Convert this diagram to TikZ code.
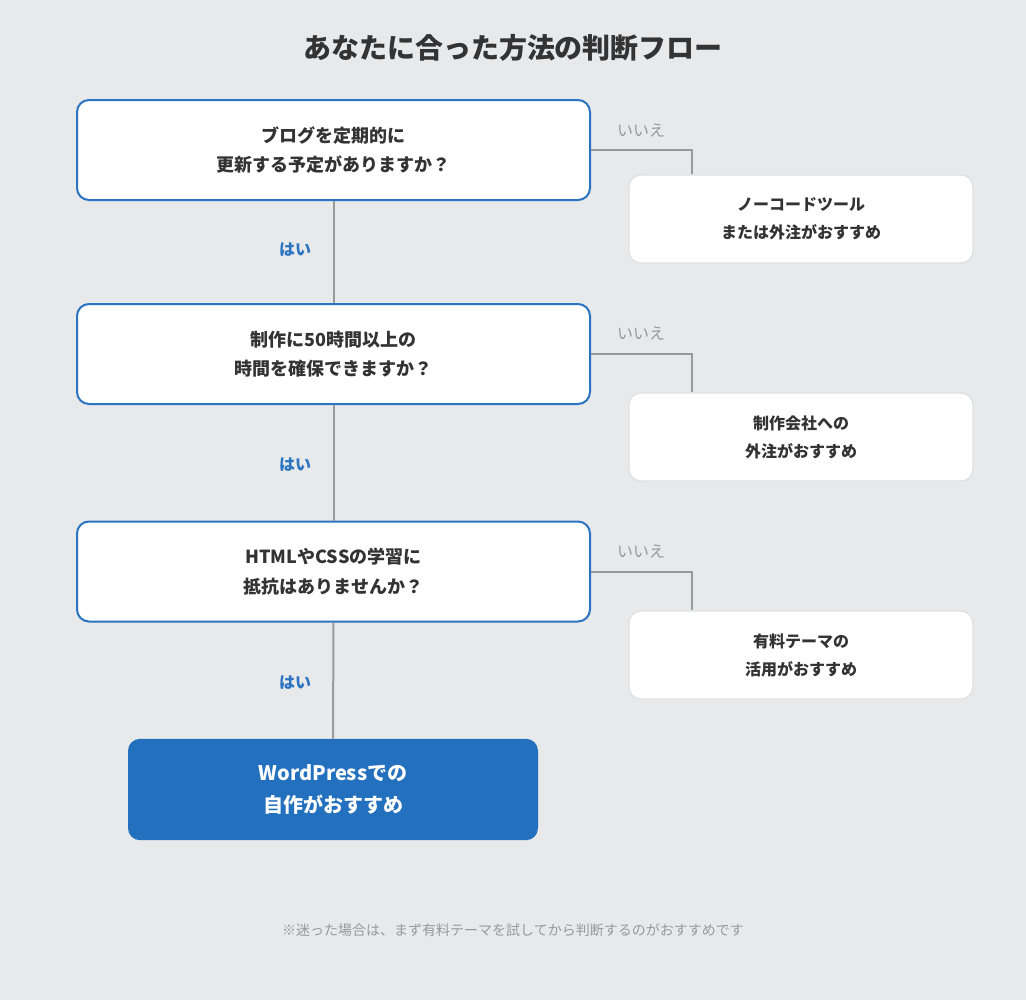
\documentclass[tikz,border=0pt]{standalone}
\usepackage{fontspec}
\setmainfont{Noto Sans CJK JP}
\definecolor{bggray}{HTML}{E8E9EB}
\definecolor{qblue}{HTML}{2B74C1}
\definecolor{fillblue}{HTML}{2370BF}
\definecolor{linegray}{HTML}{999999}
\definecolor{textdark}{HTML}{333333}
\tikzset{
  question/.style={draw=qblue,line width=1.5pt,fill=white,rounded corners=9pt,
    minimum width=384.75pt,minimum height=75pt,align=center,
    font=\fontsize{13.5}{22}\selectfont\bfseries,text=textdark},
  answer/.style={draw=black!12,line width=1pt,fill=white,rounded corners=9pt,
    minimum width=258pt,minimum height=66pt,align=center,
    font=\fontsize{12}{21}\selectfont\bfseries,text=textdark},
  result/.style={fill=fillblue,rounded corners=9pt,
    minimum width=307.5pt,minimum height=76pt,align=center,
    font=\fontsize{15}{24}\selectfont\bfseries,text=white},
  flow/.style={draw=linegray,line width=1.5pt},
  yes/.style={font=\fontsize{12}{14}\selectfont\bfseries,text=qblue},
  no/.style={font=\fontsize{12}{14}\selectfont,text=linegray}
}
\begin{document}
\begin{tikzpicture}[x=0.75pt,y=-0.75pt]
  \fill[bggray] (0,0) rectangle (1026,1000);
  \useasboundingbox (0,0) rectangle (1026,1000);
  \node[font=\fontsize{21}{24}\selectfont\bfseries,text=textdark] (title) at (513,48) {あなたに合った方法の判断フロー};
  % questions
  \node[question] (q1) at (333.5,150) {ブログを定期的に\\更新する予定がありますか？};
  \node[question] (q2) at (333.5,354) {制作に50時間以上の\\時間を確保できますか？};
  \node[question] (q3) at (333.5,571.5) {HTMLやCSSの学習に\\抵抗はありませんか？};
  \node[result] (res) at (333,789.5) {WordPressでの\\自作がおすすめ};
  % answers
  \node[answer] (a1) at (801,219) {ノーコードツール\\または外注がおすすめ};
  \node[answer] (a2) at (801,437) {制作会社への\\外注がおすすめ};
  \node[answer] (a3) at (801,655) {有料テーマの\\活用がおすすめ};
  % yes
  \draw[flow] (q1) -- (q2);
  \draw[flow] (q2) -- (q3);
  \draw[flow] (q3) -- (res);
  \node[yes] (y1) at (295,250) {はい};
  \node[yes] (y2) at (295,465) {はい};
  \node[yes] (y3) at (295,683) {はい};
  % no
  \draw[flow] (q1.east) -| (a1.north -| 692,0);
  \draw[flow] (q2.east) -| (a2.north -| 692,0);
  \draw[flow] (q3.east) -| (a3.north -| 692,0);
  \node[no] (n1) at (641,131) {いいえ};
  \node[no] (n2) at (641,334) {いいえ};
  \node[no] (n3) at (641,552) {いいえ};
  \node[font=\fontsize{10.5}{12}\selectfont,text=linegray] (note) at (513,930) {※迷った場合は、まず有料テーマを試してから判断するのがおすすめです};
\end{tikzpicture}
\end{document}
